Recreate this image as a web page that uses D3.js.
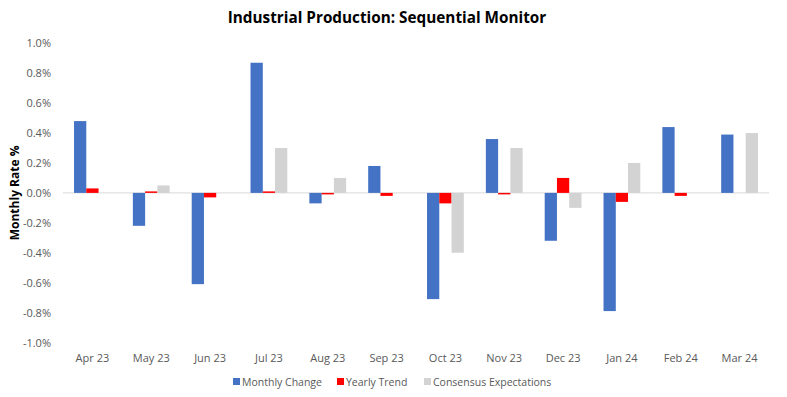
<!DOCTYPE html>
<html><head><meta charset="utf-8">
<script src="https://cdn.jsdelivr.net/npm/d3@7"></script>
<style>body{margin:0;background:#fff}svg{display:block}</style>
</head><body>
<script>
const categories = ["Apr 23","May 23","Jun 23","Jul 23","Aug 23","Sep 23","Oct 23","Nov 23","Dec 23","Jan 24","Feb 24","Mar 24"];
const monthlyChange = [0.48,-0.22,-0.61,0.87,-0.07,0.18,-0.71,0.36,-0.32,-0.79,0.44,0.39];
const yearlyTrend   = [0.03,0.01,-0.03,0.01,-0.01,-0.02,-0.07,-0.01,0.10,-0.06,-0.02,0.0];
const consensus     = [0.0,0.05,0.0,0.30,0.10,0.0,-0.40,0.30,-0.10,0.20,0.0,0.40];
const yTicks = [-1.0,-0.8,-0.6,-0.4,-0.2,0.0,0.2,0.4,0.6,0.8,1.0];
const seriesNames = ["Monthly Change","Yearly Trend","Consensus Expectations"];
const colors = ["#4472C4","#FF0000","#D3D3D3"];
const series = [monthlyChange, yearlyTrend, consensus];

const W=787,H=397;
const m={left:63,right:18,top:43,bottom:55};
const svg=d3.select("body").append("svg").attr("width",W).attr("height",H);
const font="'Open Sans', 'Liberation Sans', sans-serif";

const x0=d3.scaleBand().domain(categories).range([m.left,W-m.right]);
const y=d3.scaleLinear().domain([-1,1]).range([342.5,43.3]);

const groupW = x0.bandwidth()*3/4.8;
const xs=d3.scaleBand().domain(d3.range(3)).range([0,groupW]);

// zero line
svg.append("line").attr("x1",m.left).attr("x2",W-m.right).attr("y1",y(0)).attr("y2",y(0))
  .attr("stroke","#D9D9D9").attr("stroke-width",1);

// bars
series.forEach((vals,si)=>{
  svg.append("g").selectAll("rect").data(vals).join("rect")
    .attr("x",(d,i)=>x0(categories[i])+(x0.bandwidth()-groupW)/2+xs(si))
    .attr("width",xs.bandwidth())
    .attr("y",d=>y(Math.max(0,d)))
    .attr("height",d=>Math.abs(y(d)-y(0)))
    .attr("fill",colors[si]);
});

// y axis
const ya=svg.append("g").attr("transform",`translate(${m.left-9},0)`)
  .call(d3.axisLeft(y).tickValues(yTicks).tickSize(0).tickFormat(d=>d3.format(".1f")(d).replace("−","-")+"%"));
ya.select(".domain").remove();
ya.selectAll("text").attr("fill","#595959").style("font-family",font).style("font-size","11px");

// x axis labels
const xa=svg.append("g").attr("transform",`translate(0,351)`)
  .call(d3.axisBottom(x0).tickSize(0));
xa.select(".domain").remove();
xa.selectAll("text").attr("fill","#595959").style("font-family",font).style("font-size","11px");

// title
svg.append("text").attr("x",387).attr("y",23).attr("text-anchor","middle")
  .style("font-family",font).style("font-weight","bold").style("font-size","15.3px").attr("fill","#000")
  .text("Industrial Production: Sequential Monitor");

// y label
svg.append("text").attr("transform",`translate(19,${y(0)}) rotate(-90)`).attr("text-anchor","middle")
  .style("font-family",font).style("font-weight","bold").style("font-size","12px").attr("fill","#000")
  .text("Monthly Rate %");

// legend
const legX=[233,337,424];
const lg=svg.append("g");
seriesNames.forEach((n,i)=>{
  lg.append("rect").attr("x",legX[i]).attr("y",378).attr("width",7).attr("height",7).attr("fill",colors[i]);
  lg.append("text").attr("x",legX[i]+9).attr("y",386).attr("fill","#595959")
    .style("font-family",font).style("font-size","10.5px").text(n);
});
</script>
</body></html>
